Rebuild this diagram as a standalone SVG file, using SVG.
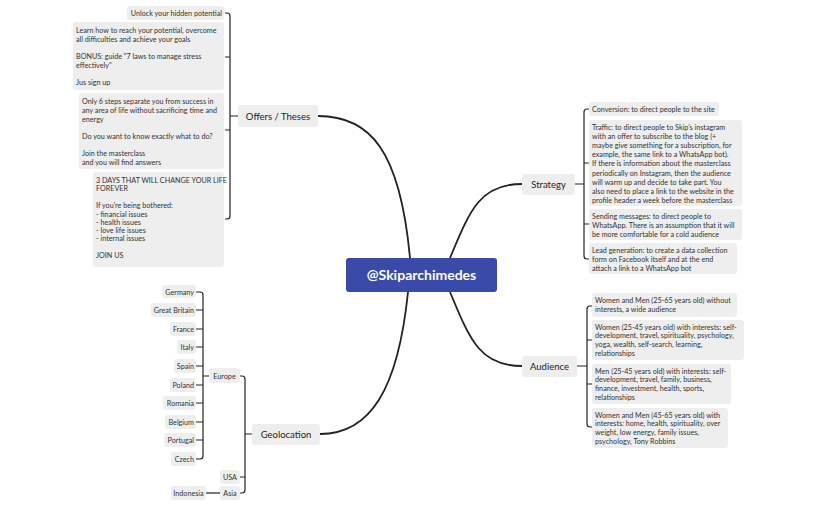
<svg xmlns="http://www.w3.org/2000/svg" width="818" height="507" viewBox="0 0 818 507">
<style>
.b{fill:#eeeeee}
.t{font-family:Lato,"Open Sans",sans-serif;font-size:7.2px;fill:#333}
.r{text-anchor:end}
.m{font-family:Lato,"Open Sans",sans-serif;font-size:9.5px;fill:#222;text-anchor:middle}
.c{fill:none;stroke:#222;stroke-width:1.2}
.c2{fill:none;stroke:#222;stroke-width:1.8}
</style>
<rect width="818" height="507" fill="#fff"/>
<g id="connectors">
<path class="c2" d="M410 258 C400 150 370 116 318 116"/>
<path class="c2" d="M450 258 C470 210 480 184 522 184"/>
<path class="c2" d="M450 292 C470 340 480 366 522 366"/>
<path class="c2" d="M408 292 C398 390 370 434 320 434"/>
<path class="c" d="M238 116 H230 M225 13 H227 Q230 13 230 16 V216 Q230 219 227 219 H225 M225 57 H230 M225 130 H230"/>
<path class="c" d="M522 184 H584 M590 109 H587 Q584 109 584 112 V256 Q584 259 587 259 H590 M584 163 H590 M584 224 H590" transform="translate(0,0)"/>
<path class="c" d="M522 366 H587 M592 306 H590 Q587 306 587 309 V424 Q587 427 590 427 H592 M587 340 H592 M587 384 H592"/>
<path class="c" d="M252 434 H245 M240 376 H242 Q245 376 245 379 V490 Q245 493 242 493 H240 M240 477 H245"/>
<path class="c" d="M209 376 H203 M196 292 H200 Q203 292 203 295 V456 Q203 459 200 459 H196 M196 310 H203 M196 329 H203 M196 347 H203 M196 366 H203 M196 385 H203 M196 403 H203 M196 422 H203 M196 440 H203"/>
<path class="c" d="M206 493 H220"/>
</g>
<g id="center"><rect x="346" y="258" width="151" height="34" rx="3" fill="#3a4aa8"/><text x="421.5" y="280" font-family="Lato,'Open Sans',sans-serif" font-size="14" font-weight="bold" fill="#fff" text-anchor="middle">@Skiparchimedes</text></g>
<g id="offers"><rect class="b" x="238" y="105" width="80" height="22" rx="3"/><text class="m" x="278" y="119.5">Offers / Theses</text></g>
<g id="o1"><rect class="b" x="127" y="6" width="97" height="14" rx="3"/><text class="t r" x="222" y="15.5">Unlock your hidden potential</text></g>
<g id="o2"><rect class="b" x="73" y="22" width="151" height="68" rx="3"/><text class="t" x="76" y="32.5">Learn how to reach your potential, overcome<tspan x="76" dy="9">all difficulties and achieve your goals</tspan><tspan x="76" dy="17">BONUS: guide "7 laws to manage stress</tspan><tspan x="76" dy="9">effectively"</tspan><tspan x="76" dy="17">Jus sign up</tspan></text></g>
<g id="o3"><rect class="b" x="79" y="93" width="145" height="76" rx="3"/><text class="t" x="82" y="103.5">Only 6 steps separate you from success in<tspan x="82" dy="9">any area of life without sacrificing time and</tspan><tspan x="82" dy="9">energy</tspan><tspan x="82" dy="17">Do you want to know exactly what to do?</tspan><tspan x="82" dy="17">Join the masterclass</tspan><tspan x="82" dy="9">and you will find answers</tspan></text></g>
<g id="o4"><rect class="b" x="93" y="172" width="131" height="95" rx="3"/><text class="t" x="96" y="182.5">3 DAYS THAT WILL CHANGE YOUR LIFE<tspan x="96" dy="8.7">FOREVER</tspan><tspan x="96" dy="17">If you're being bothered:</tspan><tspan x="96" dy="8.3">- financial issues</tspan><tspan x="96" dy="8.3">- health issues</tspan><tspan x="96" dy="8.3">- love life issues</tspan><tspan x="96" dy="8.3">- internal issues</tspan><tspan x="96" dy="17">JOIN US</tspan></text></g>
<g id="strategy"><rect class="b" x="522" y="174" width="53" height="21" rx="3"/><text class="m" x="548.5" y="188">Strategy</text></g>
<g id="s1"><rect class="b" x="589" y="102" width="130" height="14" rx="3"/><text class="t" x="592" y="111.5">Conversion: to direct people to the site</text></g>
<g id="s2"><rect class="b" x="589" y="120" width="153" height="86" rx="3"/><text class="t" x="592" y="129.5">Traffic: to direct people to Skip's instagram<tspan x="592" dy="9.2">with an offer to subscribe to the blog (+</tspan><tspan x="592" dy="9.2">maybe give something for a subscription, for</tspan><tspan x="592" dy="9.2">example, the same link to a WhatsApp bot).</tspan><tspan x="592" dy="9.2">If there is information about the masterclass</tspan><tspan x="592" dy="9.2">periodically on Instagram, then the audience</tspan><tspan x="592" dy="9.2">will warm up and decide to take part. You</tspan><tspan x="592" dy="9.2">also need to place a link to the website in the</tspan><tspan x="592" dy="9.2">profile header a week before the masterclass</tspan></text></g>
<g id="s3"><rect class="b" x="589" y="209" width="153" height="31" rx="3"/><text class="t" x="592" y="218.5">Sending messages: to direct people to<tspan x="592" dy="9.2">WhatsApp. There is an assumption that it will</tspan><tspan x="592" dy="9.2">be more comfortable for a cold audience</tspan></text></g>
<g id="s4"><rect class="b" x="589" y="243" width="148" height="31" rx="3"/><text class="t" x="592" y="252.5">Lead generation: to create a data collection<tspan x="592" dy="9.2">form on Facebook itself and at the end</tspan><tspan x="592" dy="9.2">attach a link to a WhatsApp bot</tspan></text></g>
<g id="audience"><rect class="b" x="522" y="356" width="55" height="21" rx="3"/><text class="m" x="549.5" y="370">Audience</text></g>
<g id="a1"><rect class="b" x="592" y="293" width="145" height="24" rx="3"/><text class="t" x="595" y="302.5">Women and Men (25-65 years old) without<tspan x="595" dy="9">interests, a wide audience</tspan></text></g>
<g id="a2"><rect class="b" x="592" y="320" width="152" height="40" rx="3"/><text class="t" x="595" y="329.5">Women (25-45 years old) with interests: self-<tspan x="595" dy="8.9">development, travel, spirituality, psychology,</tspan><tspan x="595" dy="8.9">yoga, wealth, self-search, learning,</tspan><tspan x="595" dy="8.9">relationships</tspan></text></g>
<g id="a3"><rect class="b" x="592" y="364" width="139" height="40" rx="3"/><text class="t" x="595" y="373.5">Men (25-45 years old) with interests: self-<tspan x="595" dy="8.9">development, travel, family, business,</tspan><tspan x="595" dy="8.9">finance, investment, health, sports,</tspan><tspan x="595" dy="8.9">relationships</tspan></text></g>
<g id="a4"><rect class="b" x="592" y="408" width="136" height="40" rx="3"/><text class="t" x="595" y="417.5">Women and Men (45-65 years old) with<tspan x="595" dy="8.9">interests: home, health, spirituality, over</tspan><tspan x="595" dy="8.9">weight, low energy, family issues,</tspan><tspan x="595" dy="8.9">psychology, Tony Robbins</tspan></text></g>
<g id="geolocation"><rect class="b" x="252" y="424" width="68" height="21" rx="3"/><text class="m" x="286" y="438">Geolocation</text></g>
<g id="europe"><rect class="b" x="209" y="368" width="31" height="15" rx="3"/><text class="t" x="224.5" y="378.5" text-anchor="middle">Europe</text></g>
<g id="usa"><rect class="b" x="220" y="470" width="20" height="14" rx="3"/><text class="t" x="230" y="479.5" text-anchor="middle">USA</text></g>
<g id="asia"><rect class="b" x="220" y="486" width="20" height="14" rx="3"/><text class="t" x="230" y="495.5" text-anchor="middle">Asia</text></g>
<g id="indonesia"><rect class="b" x="171" y="486" width="35" height="14" rx="3"/><text class="t" x="188.5" y="495.5" text-anchor="middle">Indonesia</text></g>
<g id="germany"><rect class="b" x="162" y="285" width="34" height="13" rx="3"/><text class="t r" x="194" y="294.5">Germany</text></g>
<g id="gb"><rect class="b" x="151" y="303" width="45" height="14" rx="3"/><text class="t r" x="194" y="312.5">Great Britain</text></g>
<g id="france"><rect class="b" x="170" y="322" width="26" height="14" rx="3"/><text class="t r" x="194" y="331.5">France</text></g>
<g id="italy"><rect class="b" x="177" y="340" width="19" height="14" rx="3"/><text class="t r" x="194" y="349.5">Italy</text></g>
<g id="spain"><rect class="b" x="174" y="359" width="22" height="14" rx="3"/><text class="t r" x="194" y="368.5">Spain</text></g>
<g id="poland"><rect class="b" x="170" y="378" width="26" height="14" rx="3"/><text class="t r" x="194" y="387.5">Poland</text></g>
<g id="romania"><rect class="b" x="163" y="396" width="33" height="14" rx="3"/><text class="t r" x="194" y="405.5">Romania</text></g>
<g id="belgium"><rect class="b" x="165" y="415" width="31" height="14" rx="3"/><text class="t r" x="194" y="424.5">Belgium</text></g>
<g id="portugal"><rect class="b" x="164" y="433" width="32" height="14" rx="3"/><text class="t r" x="194" y="442.5">Portugal</text></g>
<g id="czech"><rect class="b" x="171" y="452" width="25" height="14" rx="3"/><text class="t r" x="194" y="461.5">Czech</text></g>
</svg>
